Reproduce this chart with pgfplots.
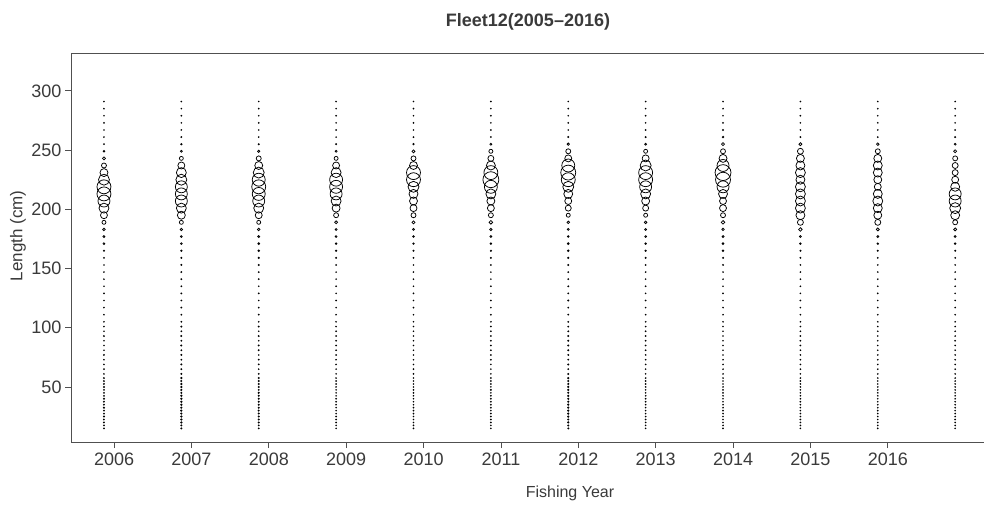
\documentclass[border=0pt]{standalone}
\usepackage{fontspec}
\setmainfont{Liberation Sans}
\usepackage{pgfplots}
\usepackage{pgfplotstable}
\pgfplotsset{compat=1.18}
\definecolor{txt}{HTML}{3A3A3A}
\definecolor{axl}{HTML}{505050}
\newcommand\tickfont{\fontsize{18bp}{20bp}\selectfont}
\newcommand\lblfont{\fontsize{16bp}{18bp}\selectfont}

\pgfplotstableread{
y s1 s2 s3 s4 s5 s6 s7 s8 s9 s10 s11 s12
291 0.4 0.4 0.4 0.4 0.4 0.4 0.4 0.4 0.4 0.4 0.4 0.4
285 0.4 0.4 0.4 0.4 0.4 0.4 0.4 0.4 0.4 0.4 0.4 0.4
279 0.4 0.4 0.4 0.4 0.4 0.4 0.4 0.4 0.4 0.4 0.4 0.4
273 0.4 0.4 0.4 0.4 0.4 0.4 0.4 0.4 0.5 0.4 0.4 0.4
267 0.4 0.4 0.4 0.4 0.4 0.4 0.4 0.5 0.6 0.4 0.4 0.5
261 0.4 0.5 0.4 0.4 0.5 0.5 0.6 0.6 0.8 0.5 0.5 0.6
255 0.5 0.7 0.6 0.6 0.7 1.0 1.2 1.0 1.5 1.5 1.3 0.9
249 0.8 1.0 1.2 1.0 1.5 2.0 2.5 2.0 2.5 3.0 2.5 1.5
243 1.5 2.0 2.5 2.0 2.5 3.0 3.5 3.5 4.0 4.0 4.0 2.5
237 2.5 3.5 4.0 3.5 4.0 4.5 6.5 5.5 6.0 4.5 4.5 3.0
231 4.0 5.0 5.5 5.0 7.0 7.0 7.5 7.0 8.0 5.0 4.5 3.0
225 5.5 5.5 6.5 6.5 7.0 8.0 7.0 7.0 7.5 4.5 4.0 3.5
219 7.0 6.0 7.0 6.5 5.5 6.5 5.5 6.0 6.0 5.0 3.5 4.5
213 7.0 6.0 6.5 6.0 4.5 5.0 4.5 5.0 4.5 5.0 4.5 6.0
207 6.0 6.0 6.0 5.0 4.0 4.0 3.5 4.0 3.5 5.0 5.0 6.0
201 5.0 5.0 5.0 4.0 3.5 3.5 3.0 3.0 3.5 5.0 4.5 5.5
195 3.5 4.0 3.5 2.5 2.5 2.5 2.0 2.0 2.5 4.5 4.0 4.5
189 2.0 2.0 2.0 1.5 1.5 1.8 1.3 1.3 1.8 3.0 3.0 2.5
183 1.3 1.2 1.3 1.0 1.0 1.2 1.0 1.0 1.2 1.8 1.5 1.5
177 1.0 0.9 1.0 0.9 0.9 0.9 0.9 0.9 1.0 1.0 1.0 1.0
171 0.9 0.9 0.9 0.8 0.8 0.8 0.9 0.8 0.9 0.8 0.8 0.8
165 0.6 0.8 0.8 0.7 0.6 0.6 0.8 0.7 0.8 0.6 0.6 0.6
159 0.5 0.6 0.7 0.6 0.5 0.5 0.7 0.6 0.6 0.5 0.5 0.5
153 0.4 0.6 0.6 0.5 0.4 0.4 0.6 0.5 0.5 0.4 0.4 0.4
147 0.4 0.5 0.5 0.4 0.4 0.4 0.5 0.4 0.4 0.4 0.4 0.4
141 0.4 0.5 0.5 0.4 0.4 0.4 0.5 0.4 0.4 0.4 0.4 0.4
135 0.4 0.5 0.4 0.4 0.4 0.4 0.5 0.4 0.4 0.4 0.4 0.4
129 0.4 0.5 0.5 0.4 0.4 0.4 0.5 0.4 0.4 0.4 0.4 0.4
123 0.4 0.4 0.4 0.4 0.4 0.4 0.5 0.4 0.4 0.4 0.4 0.4
117 0.4 0.5 0.4 0.4 0.4 0.4 0.4 0.4 0.4 0.4 0.4 0.4
111 0.4 0.5 0.5 0.4 0.4 0.4 0.5 0.4 0.4 0.4 0.4 0.4
105 0.4 0.5 0.4 0.4 0.4 0.4 0.5 0.4 0.4 0.4 0.4 0.4
101 0.4 0.6 0.5 0.4 0.4 0.4 0.5 0.4 0.4 0.4 0.4 0.4
97 0.4 0.5 0.4 0.4 0.4 0.4 0.5 0.4 0.4 0.4 0.4 0.4
93 0.5 0.6 0.5 0.4 0.4 0.4 0.6 0.4 0.4 0.4 0.4 0.4
89 0.4 0.5 0.4 0.4 0.4 0.4 0.5 0.4 0.4 0.4 0.4 0.4
85 0.4 0.6 0.5 0.4 0.4 0.4 0.5 0.4 0.4 0.4 0.4 0.4
81 0.4 0.5 0.5 0.4 0.4 0.4 0.6 0.4 0.4 0.4 0.4 0.4
77 0.5 0.6 0.4 0.4 0.4 0.4 0.5 0.4 0.4 0.4 0.4 0.4
73 0.4 0.5 0.5 0.4 0.4 0.4 0.5 0.4 0.4 0.4 0.4 0.4
69 0.4 0.6 0.5 0.4 0.4 0.4 0.6 0.4 0.4 0.4 0.4 0.4
65 0.5 0.5 0.4 0.4 0.4 0.4 0.5 0.4 0.4 0.4 0.4 0.4
61 0.4 0.6 0.5 0.4 0.4 0.4 0.6 0.4 0.4 0.4 0.4 0.4
57.5 0.5 0.7 0.6 0.4 0.4 0.5 0.7 0.4 0.4 0.4 0.4 0.4
55 0.5 0.6 0.6 0.4 0.4 0.5 0.6 0.4 0.4 0.4 0.4 0.4
52.5 0.5 0.7 0.6 0.4 0.4 0.5 0.7 0.4 0.4 0.4 0.4 0.4
50 0.6 0.7 0.6 0.4 0.4 0.4 0.7 0.4 0.4 0.4 0.4 0.4
47.5 0.5 0.7 0.5 0.4 0.4 0.5 0.7 0.4 0.4 0.4 0.4 0.4
45 0.5 0.6 0.6 0.4 0.4 0.4 0.6 0.4 0.4 0.4 0.4 0.4
42.5 0.5 0.7 0.6 0.4 0.4 0.5 0.7 0.4 0.4 0.4 0.4 0.4
40 0.6 0.7 0.6 0.4 0.4 0.5 0.7 0.4 0.4 0.4 0.4 0.4
37.5 0.5 0.7 0.6 0.4 0.4 0.4 0.7 0.4 0.4 0.4 0.4 0.4
35 0.5 0.7 0.6 0.4 0.4 0.5 0.7 0.4 0.4 0.4 0.4 0.4
32.5 0.6 0.7 0.6 0.4 0.4 0.5 0.7 0.4 0.4 0.4 0.4 0.4
30 0.5 0.7 0.6 0.4 0.4 0.4 0.7 0.4 0.4 0.4 0.4 0.4
27.5 0.5 0.7 0.6 0.4 0.4 0.5 0.7 0.4 0.4 0.4 0.4 0.4
25 0.6 0.7 0.6 0.4 0.4 0.5 0.7 0.4 0.4 0.4 0.4 0.4
22.5 0.5 0.7 0.6 0.4 0.4 0.4 0.7 0.4 0.4 0.4 0.4 0.4
20 0.5 0.7 0.6 0.4 0.4 0.5 0.7 0.4 0.4 0.4 0.4 0.4
17.5 0.5 0.6 0.5 0.4 0.4 0.4 0.6 0.4 0.4 0.4 0.4 0.4
15 0.5 0.6 0.5 0.4 0.4 0.4 0.6 0.4 0.4 0.4 0.4 0.4
}\bubbles

\pgfplotsset{bub/.style={scatter, only marks, mark=o,
  mark options={line width=0.75bp},
  scatter/use mapped color={draw=black},
  visualization depends on={\thisrow{#1}\as\rad},
  scatter/@pre marker code/.append style={/tikz/mark size=\rad}}}

\begin{document}
\begin{tikzpicture}
\begin{axis}[
  scale only axis, width=998bp, height=389bp,
  xmin=2005.444, xmax=2018.341, ymin=3.5, ymax=332,
  xtick={2006,2007,2008,2009,2010,2011,2012,2013,2014,2015,2016},
  ytick={50,100,150,200,250,300},
  /pgf/number format/assume math mode=true,
  /pgf/number format/1000 sep={},
  tick label style={font=\tickfont, txt},
  xticklabel style={yshift=-1bp},
  tick align=outside, tick pos=left,
  major tick length=6bp,
  tick style={axl, line width=0.8bp},
  axis line style={axl, line width=0.8bp},
  clip=false,
]
\addplot[bub=s1] table[x expr=2005.87, y=y] {\bubbles};
\addplot[bub=s2] table[x expr=2006.87, y=y] {\bubbles};
\addplot[bub=s3] table[x expr=2007.87, y=y] {\bubbles};
\addplot[bub=s4] table[x expr=2008.87, y=y] {\bubbles};
\addplot[bub=s5] table[x expr=2009.87, y=y] {\bubbles};
\addplot[bub=s6] table[x expr=2010.87, y=y] {\bubbles};
\addplot[bub=s7] table[x expr=2011.87, y=y] {\bubbles};
\addplot[bub=s8] table[x expr=2012.87, y=y] {\bubbles};
\addplot[bub=s9] table[x expr=2013.87, y=y] {\bubbles};
\addplot[bub=s10] table[x expr=2014.87, y=y] {\bubbles};
\addplot[bub=s11] table[x expr=2015.87, y=y] {\bubbles};
\addplot[bub=s12] table[x expr=2016.87, y=y] {\bubbles};
\coordinate (bl) at (rel axis cs:0,0);
\coordinate (tl) at (rel axis cs:0,1);
\node[rotate=90, font=\fontsize{17bp}{19bp}\selectfont, txt] at ([xshift=-53bp]rel axis cs:0,0.5296) {Length (cm)};
\node[anchor=base, font=\lblfont, txt] at ([yshift=-55bp]rel axis cs:0.5,0) {Fishing Year};
\node[anchor=base, font=\bfseries\fontsize{18bp}{20bp}\selectfont, txt] at ([xshift=457bp, yshift=26bp]rel axis cs:0,1) {Fleet12(2005–2016)};
\end{axis}
\pgfresetboundingbox
\path ([shift={(-71bp,-66bp)}]bl) rectangle ([shift={(913bp,53bp)}]tl);
\end{tikzpicture}
\end{document}
